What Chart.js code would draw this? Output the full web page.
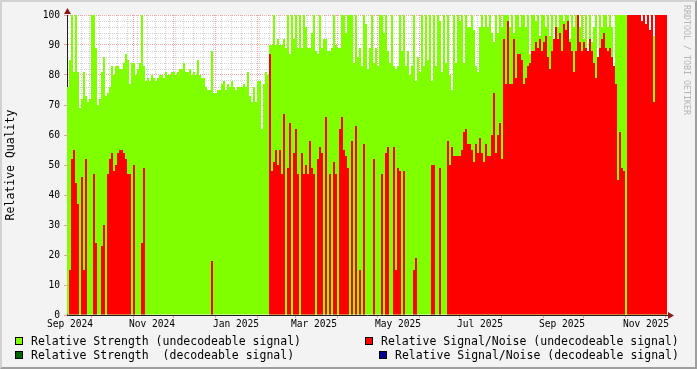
<!DOCTYPE html>
<html>
<head>
<meta charset="utf-8">
<title>Relative Quality</title>
<script src="https://cdn.jsdelivr.net/npm/chart.js@4.4.0/dist/chart.umd.min.js"></script>
<style>
  html, body { margin: 0; padding: 0; background: #f3f3f3; overflow: hidden; }
  #wrap { position: relative; width: 697px; height: 369px; font-family: 'DejaVu Sans Mono', monospace; }
  #chart { position: absolute; left: 0; top: 0; }
  #frame {
    position: absolute; left: 0; top: 0; width: 697px; height: 369px; box-sizing: border-box;
    border-top: 2px solid #d2d2d2; border-left: 2px solid #d2d2d2;
    border-right: 2px solid #9e9e9e; border-bottom: 2px solid #9e9e9e;
    pointer-events: none;
  }
  .box { position: absolute; width: 6px; height: 6px; border: 1px solid #000; }
  .txt { position: absolute; font-size: 11.5px; line-height: 14px; color: #000; white-space: pre; }
  #credit {
    position: absolute; left: 692px; top: 5px; transform-origin: 0 0; transform: rotate(90deg);
    font-size: 8.3px; line-height: 10px; color: #b4b4b4; white-space: pre;
  }
</style>
</head>
<body>
<div id="wrap">
  <canvas id="chart" width="697" height="369"></canvas>

  <!-- legend, laid out like the rrdtool one -->
  <span class="box" style="left:15px; top:337px; background:#80ff00"></span>
  <span class="txt" style="left:31px; top:334px">Relative Strength (undecodeable signal)</span>
  <span class="box" style="left:15px; top:351px; background:#006400"></span>
  <span class="txt" style="left:31px; top:348px">Relative Strength  (decodeable signal)</span>
  <span class="box" style="left:365px; top:337px; background:#ff0000"></span>
  <span class="txt" style="left:381px; top:334px">Relative Signal/Noise (undecodeable signal)</span>
  <span class="box" style="left:379px; top:351px; background:#000090"></span>
  <span class="txt" style="left:395px; top:348px">Relative Signal/Noise (decodeable signal)</span>

  <div id="credit">RRDTOOL / TOBI OETIKER</div>
  <div id="frame"></div>
</div>

<script>
// ============================================================
// DATA (one value per bar, each bar ~1.5 days)
// ============================================================
const strengthUndecodeable = [
  76, 85, 100, 81, 100, 81, 69, 72, 81, 73,
  71, 72, 100, 100, 89, 70, 72, 81, 86, 73,
  74, 76, 83, 80, 83, 83, 82, 82, 84, 87,
  85, 77, 84, 84, 80, 82, 84, 100, 83, 78,
  79, 78, 80, 79, 78, 79, 80, 80, 79, 81,
  80, 80, 81, 81, 80, 81, 82, 82, 84, 81,
  81, 82, 80, 81, 80, 85, 80, 79, 79, 76,
  75, 75, 88, 74, 74, 75, 75, 77, 78, 75,
  77, 76, 78, 76, 75, 76, 76, 76, 77, 76,
  81, 73, 71, 76, 71, 78, 78, 62, 77, 81,
  80, 90, 90, 100, 90, 92, 90, 90, 92, 89,
  100, 87, 100, 92, 100, 89, 100, 89, 100, 96,
  89, 89, 94, 100, 88, 87, 100, 89, 92, 92,
  88, 88, 89, 100, 90, 89, 89, 100, 100, 94,
  100, 100, 100, 84, 100, 86, 89, 83, 100, 97,
  82, 89, 100, 84, 89, 83, 100, 100, 94, 100,
  88, 84, 100, 83, 82, 83, 100, 88, 100, 83,
  88, 80, 83, 100, 78, 86, 81, 100, 83, 100,
  85, 100, 78, 100, 83, 100, 98, 81, 100, 84,
  100, 80, 75, 100, 84, 100, 98, 100, 84, 100,
  96, 96, 100, 95, 83, 81, 96, 100, 96, 100,
  96, 100, 94, 91, 100, 94, 100, 96, 100, 100,
  100, 96, 100, 94, 100, 100, 96, 100, 100, 96,
  100, 87, 100, 100, 98, 100, 93, 100, 100, 96,
  100, 93, 100, 87, 100, 96, 100, 100, 98, 100,
  100, 92, 100, 96, 100, 100, 96, 100, 92, 100,
  87, 100, 91, 96, 100, 84, 100, 96, 100, 100,
  96, 100, 96, 81, 100, 100, 100, 100, 100, 100,
  100, 100, 100, 100, 100, 100, 100, 98, 100, 97,
  100, 95, 100, 93, 100, 100, 100, 100, 100, 100
];

const snUndecodeable = [
  0, 15, 52, 55, 44, 37, 0, 46, 15, 52,
  0, 0, 0, 47, 24, 0, 0, 23, 30, 0,
  47, 52, 54, 48, 50, 54, 55, 55, 54, 52,
  47, 47, 0, 50, 0, 0, 0, 24, 49, 0,
  0, 0, 0, 0, 0, 0, 0, 0, 0, 0,
  0, 0, 0, 0, 0, 0, 0, 0, 0, 0,
  0, 0, 0, 0, 0, 0, 0, 0, 0, 0,
  0, 0, 18, 0, 0, 0, 0, 0, 0, 0,
  0, 0, 0, 0, 0, 0, 0, 0, 0, 0,
  0, 0, 0, 0, 0, 0, 0, 0, 0, 0,
  0, 87, 48, 51, 55, 50, 55, 47, 67, 0,
  49, 64, 0, 54, 62, 47, 0, 54, 47, 50,
  47, 58, 49, 47, 0, 52, 56, 54, 0, 66,
  0, 47, 0, 51, 47, 0, 62, 66, 55, 53,
  49, 0, 58, 0, 63, 0, 15, 0, 57, 0,
  0, 0, 0, 52, 0, 0, 0, 47, 0, 54,
  56, 0, 0, 56, 15, 49, 48, 0, 48, 0,
  0, 0, 0, 15, 19, 0, 0, 0, 0, 0,
  0, 0, 50, 50, 0, 0, 49, 0, 0, 0,
  58, 50, 56, 53, 53, 53, 53, 55, 61, 62,
  57, 57, 55, 51, 57, 54, 59, 54, 51, 57,
  53, 53, 60, 74, 54, 60, 64, 52, 92, 77,
  98, 77, 77, 92, 79, 87, 87, 85, 77, 79,
  83, 84, 88, 88, 91, 89, 92, 88, 91, 93,
  86, 82, 88, 92, 96, 92, 94, 88, 97, 95,
  98, 91, 88, 81, 88, 100, 91, 88, 91, 89,
  88, 92, 88, 84, 79, 86, 89, 92, 94, 89,
  88, 89, 86, 83, 77, 45, 61, 49, 48, 0,
  100, 100, 100, 100, 100, 100, 100, 98, 100, 97,
  100, 95, 100, 71, 100, 100, 100, 100, 100, 100
];

// nothing of the decodeable series is visible in the picture
const strengthDecodeable = [];
const snDecodeable = [];

const xTickLabels = ['Sep 2024', 'Nov 2024', 'Jan 2025', 'Mar 2025', 'May 2025', 'Jul 2025', 'Sep 2025', 'Nov 2025'];
const yTickLabels = [0, 10, 20, 30, 40, 50, 60, 70, 80, 90, 100];
const monthNames = ['Jan', 'Feb', 'Mar', 'Apr', 'May', 'Jun', 'Jul', 'Aug', 'Sep', 'Oct', 'Nov', 'Dec'];

// time axis: left edge of the plot and width of one bar
const plotStart = Date.UTC(2024, 8, 13, 6);
const barMs = 35.6 * 3600e3;
const weekMs = 7 * 86400e3;
const mondayRef = Date.UTC(2024, 8, 2);

// ============================================================
// COLOURS / FONTS
// ============================================================
const FONT = "'DejaVu Sans Mono', monospace";
const GRID = 'rgba(130, 130, 130, 0.35)';
const MGRID = 'rgba(230, 90, 90, 0.55)';
const NONE = 'rgba(0, 0, 0, 0)';

// ============================================================
// TIME HELPERS
// ============================================================
const barTimes = strengthUndecodeable.map((v, i) => plotStart + i * barMs);

function edgeTime(i) {
  return plotStart + i * barMs;
}

function monthKey(t) {
  const d = new Date(t);
  return d.getUTCFullYear() * 12 + d.getUTCMonth();
}

// grid line between bar i-1 and bar i: month start -> major, monday -> minor
function lineKind(i) {
  if (i === undefined || i <= 0 || i >= barTimes.length) return null;
  const a = edgeTime(i) - barMs / 2;
  const b = edgeTime(i) + barMs / 2;
  if (monthKey(a) !== monthKey(b)) return 'major';
  if (Math.floor((a - mondayRef) / weekMs) !== Math.floor((b - mondayRef) / weekMs)) return 'minor';
  return null;
}

// month label sits on the bar holding the 16th of the month
function tickLabel(i) {
  const a = edgeTime(i);
  const b = edgeTime(i + 1);
  const d = new Date(a);
  const mid = Date.UTC(d.getUTCFullYear(), d.getUTCMonth(), 16);
  if (a <= mid && mid < b) {
    const txt = monthNames[d.getUTCMonth()] + ' ' + d.getUTCFullYear();
    if (xTickLabels.includes(txt)) return txt;
  }
  return '';
}

// ============================================================
// PLUGINS
// ============================================================
const plotBackground = {
  id: 'plotBackground',
  beforeDraw(chart) {
    const { ctx, chartArea: a } = chart;
    ctx.save();
    ctx.fillStyle = '#ffffff';
    ctx.fillRect(a.left, a.top, a.right - a.left, a.bottom - a.top);
    ctx.restore();
  }
};

const axisArrows = {
  id: 'axisArrows',
  afterDraw(chart) {
    const { ctx, chartArea: a } = chart;
    ctx.save();
    ctx.fillStyle = '#8b1a1a';
    ctx.beginPath();
    ctx.moveTo(a.left - 3, a.top - 1);
    ctx.lineTo(a.left + 4, a.top - 1);
    ctx.lineTo(a.left + 0.5, a.top - 7);
    ctx.closePath();
    ctx.fill();
    ctx.beginPath();
    ctx.moveTo(a.right + 1, a.bottom - 3);
    ctx.lineTo(a.right + 1, a.bottom + 4);
    ctx.lineTo(a.right + 7, a.bottom + 0.5);
    ctx.closePath();
    ctx.fill();
    ctx.restore();
  }
};

// ============================================================
// CHART
// ============================================================
new Chart(document.getElementById('chart'), {
  type: 'bar',
  data: {
    labels: barTimes,
    datasets: [
      { label: 'Relative Signal/Noise (undecodeable signal)', data: snUndecodeable, backgroundColor: '#ff0000', order: 0 },
      { label: 'Relative Signal/Noise (decodeable signal)', data: snDecodeable, backgroundColor: '#000090', order: 1 },
      { label: 'Relative Strength  (decodeable signal)', data: strengthDecodeable, backgroundColor: '#006400', order: 2 },
      { label: 'Relative Strength (undecodeable signal)', data: strengthUndecodeable, backgroundColor: '#80ff00', order: 3 }
    ]
  },
  options: {
    responsive: false,
    animation: false,
    layout: { padding: { left: 0, right: 30, top: 15, bottom: 34 } },
    datasets: {
      bar: { grouped: false, categoryPercentage: 1, barPercentage: 1, borderWidth: 0, inflateAmount: 0 }
    },
    plugins: {
      legend: { display: false },
      tooltip: { enabled: false }
    },
    scales: {
      x: {
        z: 1,
        offset: true,
        grid: {
          offset: true,
          lineWidth: 1,
          tickLength: 3,
          color: c => {
            const k = lineKind(c.index);
            return k === 'major' ? MGRID : k === 'minor' ? GRID : NONE;
          },
          tickColor: c => lineKind(c.index) === 'major' ? MGRID : NONE
        },
        border: { color: '#202020', dash: [1, 1] },
        ticks: {
          autoSkip: false,
          maxRotation: 0,
          minRotation: 0,
          padding: 1,
          color: '#000',
          font: { family: FONT, size: 9.6 },
          callback: (v, i) => tickLabel(i)
        },
        afterFit: s => { s.height = 20; }
      },
      y: {
        z: 1,
        min: 0,
        max: 100,
        grid: {
          lineWidth: 1,
          tickLength: 3,
          color: c => (c.tick && c.tick.value % 10 === 0) ? MGRID : GRID,
          tickColor: c => (c.tick && c.tick.value % 10 === 0) ? MGRID : NONE
        },
        border: { color: '#202020', dash: [1, 1] },
        ticks: {
          stepSize: 2,
          autoSkip: false,
          padding: 4,
          color: '#000',
          font: { family: FONT, size: 9.6 },
          callback: v => yTickLabels.includes(v) ? String(v) : ''
        },
        title: {
          display: true,
          text: 'Relative Quality',
          color: '#000',
          font: { family: FONT, size: 11.5 },
          padding: { top: 4, bottom: 0 }
        },
        afterFit: s => { s.width = 67; }
      }
    }
  },
  plugins: [plotBackground, axisArrows]
});
</script>
</body>
</html>
